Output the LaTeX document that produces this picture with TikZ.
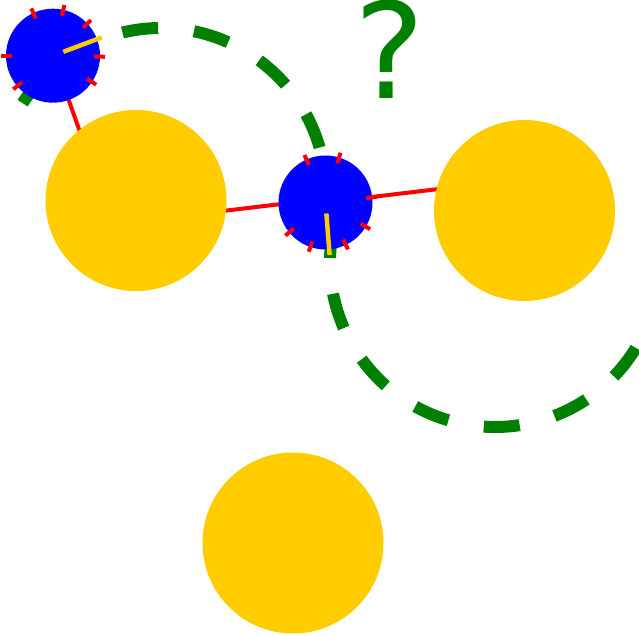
\documentclass[tikz,border=0pt]{standalone}
\usepackage{fontspec}
\newfontfamily\qfont{DejaVu Sans}
\definecolor{ballyellow}{RGB}{255,204,0}
\definecolor{qgreen}{RGB}{0,128,0}
\definecolor{atomblue}{RGB}{0,0,255}
\definecolor{bondred}{RGB}{255,0,0}
\tikzset{
  ball/.style={circle, fill=ballyellow, draw=none, minimum size=181pt, inner sep=0pt},
  atom/.style={circle, fill=atomblue, draw=none, minimum size=94pt, inner sep=0pt},
  bond/.style={draw=bondred, line width=4pt},
  tickmark/.style={draw=bondred, line width=4pt},
  needle/.style={draw=ballyellow, line width=4.5pt},
  track/.style={draw=qgreen, line width=12pt, dash pattern=on 36pt off 36pt},
}
\begin{document}
\begin{tikzpicture}[x=1pt,y=1pt]
\useasboundingbox (0,0) rectangle (639,635);
\clip (0,0) rectangle (639,635);
% dashed S-shaped track (behind everything)
\coordinate (c1) at (161,442);
\coordinate (c2) at (495,373);
\draw[track, dash phase=18.7pt] (c1) ++(147:165pt) arc[start angle=147, end angle=-5, radius=165pt];
\draw[track] (c2) ++(166.1:165pt) arc[start angle=166.1, end angle=335, radius=165pt];
% bond end points hidden inside the balls
\coordinate (da) at (89.7,475.7);
\coordinate (ae1) at (200,421.3);
\coordinate (ae2) at (320,435.6);
\coordinate (eb) at (470,449.7);
% atoms positions
\coordinate (Dc) at (53,579.3);
\coordinate (Ec) at (325.5,432.5);
% bonds
\draw[bond] (Dc) -- (da);
\draw[bond] (ae1) -- (ae2);
\draw[bond] (Ec) -- (eb);
% yellow balls
\node[ball] (A) at (136,434.5) {};
\node[ball] (B) at (524.5,424.5) {};
\node[ball] (C) at (293,92) {};
% blue atoms
\node[atom] (D) at (Dc) {};
\node[atom] (E) at (Ec) {};
% ticks
\foreach \a in {180,114.7,77.3,43.1,-1.2,-33.9,-139.7}
  \draw[tickmark] (D.center) ++(\a:41pt) -- ++(\a:11pt);
\foreach \a in {113.9,73.2,6.3,-30.9,-64.4,-108.8,-140.5}
  \draw[tickmark] (E.center) ++(\a:41pt) -- ++(\a:11pt);
% needles
\draw[needle] (D.center) ++(20.6:11pt) -- ++(20.6:41pt);
\draw[needle] (E.center) ++(-85.5:11pt) -- ++(-85.5:41.6pt);
% question mark
\node[text=qgreen, inner sep=0pt, anchor=base, text height=97pt, text depth=0pt, font=\qfont\fontsize{133pt}{133pt}\selectfont] (Q) at (389.5,536) {?};
\end{tikzpicture}
\end{document}
